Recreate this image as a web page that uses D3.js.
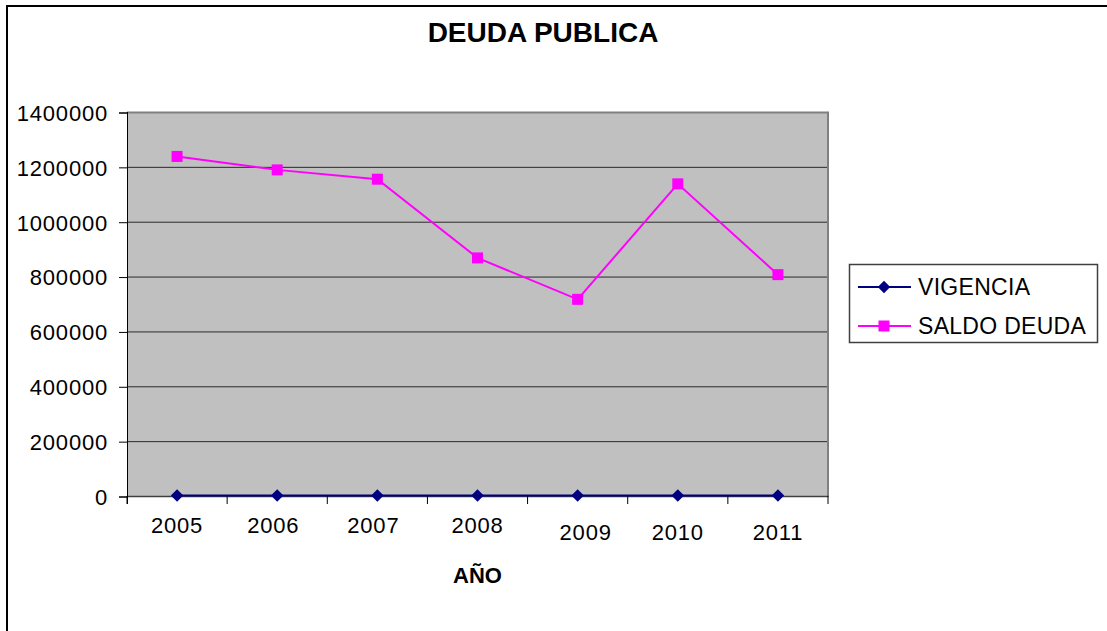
<!DOCTYPE html>
<html>
<head>
<meta charset="utf-8">
<script src="https://cdn.jsdelivr.net/npm/d3@7"></script>
<style>
  body { margin: 0; background: #fff; }
  text { font-family: Arial, "Liberation Sans", sans-serif; fill: #000; }
</style>
</head>
<body>
<div class="chart-container"></div>
<script>
const width = 1107;
const height = 631;

// Data
const years = ['2005', '2006', '2007', '2008', '2009', '2010', '2011'];
const vigencia = [2005, 2006, 2007, 2008, 2009, 2010, 2011];
const saldoDeuda = [1238000, 1189000, 1155000, 868000, 717000, 1138000, 807000];
const yTicks = [0, 200000, 400000, 600000, 800000, 1000000, 1200000, 1400000];

const plot = {left: 127, right: 828, top: 112, bottom: 496};

const svg = d3.select('.chart-container')
  .append('svg')
  .attr('width', width)
  .attr('height', height)
  .style('display', 'block');

// Outer chart border (runs off the right and bottom of the window)
svg.append('rect')
  .attr('x', 7).attr('y', 6)
  .attr('width', 1300).attr('height', 800)
  .attr('fill', '#fff')
  .attr('stroke', '#000')
  .attr('stroke-width', 2);

const x = d3.scaleBand()
  .domain(years)
  .range([plot.left, plot.right]);

const y = d3.scaleLinear()
  .domain([0, 1400000])
  .range([plot.bottom, plot.top]);

// Plot area background
svg.append('rect')
  .attr('x', plot.left).attr('y', plot.top)
  .attr('width', plot.right - plot.left)
  .attr('height', plot.bottom - plot.top)
  .attr('fill', '#c0c0c0');

// Horizontal gridlines
svg.append('g')
  .selectAll('line')
  .data(yTicks.filter(d => d > 0 && d < 1400000))
  .enter()
  .append('line')
  .attr('x1', plot.left).attr('x2', plot.right)
  .attr('y1', d => y(d) + 0.5).attr('y2', d => y(d) + 0.5)
  .attr('stroke', '#2a2a2a')
  .attr('stroke-width', 1);

// Top and right border of the plot area
svg.append('path')
  .attr('d', `M${plot.left},${plot.top + 0.5}H${plot.right}V${plot.bottom}`)
  .attr('fill', 'none')
  .attr('stroke', '#808080')
  .attr('stroke-width', 2);

// Y axis
const yAxis = svg.append('g')
  .attr('transform', `translate(${plot.left},0.5)`)
  .call(d3.axisLeft(y).tickValues(yTicks).tickFormat(d3.format('d')).tickSize(8).tickPadding(11));
yAxis.select('.domain').attr('stroke', '#000');
yAxis.selectAll('.tick line').attr('stroke', '#000');
yAxis.selectAll('text')
  .style('font-size', '22px')
  .style('letter-spacing', '0.8px')
  .attr('dy', '0.36em');

// X axis
const xAxis = svg.append('g')
  .attr('transform', `translate(0,${plot.bottom})`)
  .call(d3.axisBottom(x).tickSize(0).tickPadding(0));
xAxis.select('.domain').attr('stroke', '#404040').attr('stroke-width', 1.5);
xAxis.selectAll('.tick text')
  .style('font-size', '22px')
  .style('letter-spacing', '0.8px')
  .attr('y', (d, i) => i >= 4 ? 44 : 37)
  .attr('dx', (d, i) => i === 4 ? 8 : (i === 1 || i === 2 ? -4 : 0))
  .attr('dy', 0);

// Category separator ticks
svg.append('g')
  .selectAll('line')
  .data(years.concat(['end']))
  .enter()
  .append('line')
  .attr('x1', (d, i) => plot.left + i * x.step())
  .attr('x2', (d, i) => plot.left + i * x.step())
  .attr('y1', plot.bottom)
  .attr('y2', plot.bottom + 8)
  .attr('stroke', '#000');

// Left axis line on top
svg.append('line')
  .attr('x1', plot.left + 0.5).attr('x2', plot.left + 0.5)
  .attr('y1', plot.top).attr('y2', plot.bottom + 8)
  .attr('stroke', '#000');

const cx = d => x(d) + x.bandwidth() / 2;

const line = d3.line()
  .x((d, i) => cx(years[i]))
  .y(d => y(d));

// VIGENCIA series
svg.append('path')
  .datum(vigencia)
  .attr('d', line)
  .attr('fill', 'none')
  .attr('stroke', '#000080')
  .attr('stroke-width', 2);

svg.append('g')
  .selectAll('path')
  .data(vigencia)
  .enter()
  .append('path')
  .attr('d', d3.symbol().type(d3.symbolDiamond2).size(100))
  .attr('transform', (d, i) => `translate(${cx(years[i])},${y(d)})`)
  .attr('fill', '#000080');

// SALDO DEUDA series
svg.append('path')
  .datum(saldoDeuda)
  .attr('d', line)
  .attr('fill', 'none')
  .attr('stroke', '#ff00ff')
  .attr('stroke-width', 2);

svg.append('g')
  .selectAll('rect')
  .data(saldoDeuda)
  .enter()
  .append('rect')
  .attr('x', (d, i) => cx(years[i]) - 5.5)
  .attr('y', d => y(d) - 5.5)
  .attr('width', 11)
  .attr('height', 11)
  .attr('fill', '#ff00ff');

// Title and axis title
svg.append('text')
  .attr('x', 543).attr('y', 42)
  .attr('text-anchor', 'middle')
  .style('font-size', '28px')
  .style('font-weight', 'bold')
  .text('DEUDA PUBLICA');

svg.append('text')
  .attr('x', (plot.left + plot.right) / 2).attr('y', 583)
  .attr('text-anchor', 'middle')
  .style('font-size', '22px')
  .style('font-weight', 'bold')
  .text('AÑO');

// Legend
const legend = svg.append('g');
legend.append('rect')
  .attr('x', 849.5).attr('y', 264.5)
  .attr('width', 248).attr('height', 78)
  .attr('fill', '#fff')
  .attr('stroke', '#404040')
  .attr('stroke-width', 1.5);

const legendItems = [
  {name: 'VIGENCIA', color: '#000080', symbol: 'diamond'},
  {name: 'SALDO DEUDA', color: '#ff00ff', symbol: 'square'}
];

legendItems.forEach((item, i) => {
  const ly = 287 + i * 39;
  legend.append('line')
    .attr('x1', 858).attr('x2', 911)
    .attr('y1', ly).attr('y2', ly)
    .attr('stroke', item.color)
    .attr('stroke-width', 2);
  if (item.symbol === 'diamond') {
    legend.append('path')
      .attr('d', d3.symbol().type(d3.symbolDiamond2).size(100))
      .attr('transform', `translate(884,${ly})`)
      .attr('fill', item.color);
  } else {
    legend.append('rect')
      .attr('x', 878.5).attr('y', ly - 5.5)
      .attr('width', 11).attr('height', 11)
      .attr('fill', item.color);
  }
  legend.append('text')
    .attr('x', 918).attr('y', ly + 8)
    .style('font-size', '23px')
    .style('letter-spacing', '0.3px')
    .text(item.name);
});
</script>
</body>
</html>
